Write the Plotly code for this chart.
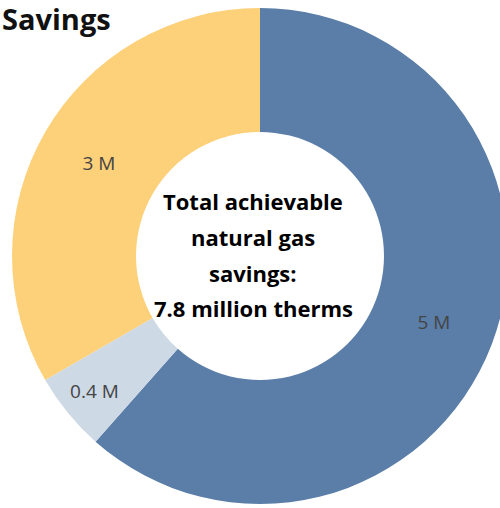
import plotly.graph_objects as go

# Natural gas savings by measure group (million therms)
categories = ["Group A", "Group B", "Group C"]
savings_mm = [4.8, 0.4, 2.6]
slice_colors = ["#5A7EA8", "#CED9E6", "#FDD07A"]

title_text = "Savings"
center_lines = ["Total achievable", "natural gas", "savings:", "7.8 million therms"]

fig = go.Figure(
    go.Pie(
        labels=categories,
        values=savings_mm,
        hole=0.5,
        sort=False,
        direction="clockwise",
        rotation=0,
        marker=dict(colors=slice_colors, line=dict(width=0)),
        texttemplate="%{value:.1r} M",
        textposition="inside",
        insidetextorientation="horizontal",
        textfont=dict(family="Open Sans", size=19, color="#444444"),
        hoverinfo="skip",
        showlegend=False,
        domain=dict(x=[0, 1], y=[0, 1]),
    )
)

# Centre caption, one annotation per line for tight line spacing
line_y = [0.6109, 0.5383, 0.4657, 0.3952]
for txt, yy in zip(center_lines, line_y):
    fig.add_annotation(
        text=txt, x=0.486, y=yy, xref="paper", yref="paper",
        showarrow=False, xanchor="center", yanchor="middle",
        font=dict(family="Open Sans", size=22, color="#000000", weight="bold"),
    )

fig.update_layout(
    width=508,
    height=508,
    margin=dict(l=12, r=0, t=8, b=4),
    paper_bgcolor="white",
    plot_bgcolor="white",
    uniformtext=dict(minsize=19, mode="show"),
    title=dict(
        text=title_text,
        x=0.004, xref="container", xanchor="left",
        y=0.961, yref="container", yanchor="middle",
        font=dict(family="Open Sans", size=29, color="#111111", weight="bold"),
    ),
)

fig.write_html(
    "out.html",
    post_script="document.body.style.overflow='hidden';document.documentElement.style.overflow='hidden';",
)
